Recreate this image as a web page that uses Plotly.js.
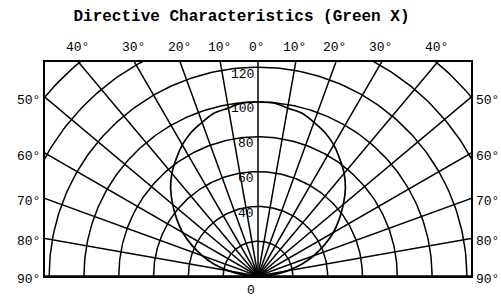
<!DOCTYPE html>
<html>
<head>
<meta charset="utf-8">
<script src="https://cdn.plot.ly/plotly-3.0.1.min.js"></script>
<style>html,body{margin:0;padding:0;background:#fff;}#chart{width:501px;height:300px;}</style>
</head>
<body>
<div id="chart"></div>
<script>
// ---- data ----
const chartTitle = 'Directive Characteristics (Green X)';
const ringRadii = [20, 40, 60, 80, 100, 120, 140, 160, 180];
const spokeAngles = [-90, -80, -70, -60, -50, -40, -30, -20, -10, 0, 10, 20, 30, 40, 50, 60, 70, 80, 90];
const ringLabelValues = [40, 60, 80, 100, 120];
const topTickAngles = [-40, -30, -20, -10, 0, 10, 20, 30, 40];
const topTickLabels = ['40°', '30°', '20°', '10°', '0°', '10°', '20°', '30°', '40°'];
const sideTickAngles = [50, 60, 70, 80, 90];
const sideTickLabels = ['50°', '60°', '70°', '80°', '90°'];
const bottomLabel = '0';
// radiation pattern (relative intensity, %) vs angle from axis (deg)
const patternAngles = [-90, -85, -80, -75, -70, -65, -60, -55, -50, -45, -40, -35, -30, -25, -20, -15, -10, -5, 0,
                       5, 10, 15, 20, 25, 30, 35, 40, 45, 50, 55, 60, 65, 70, 75, 80, 85, 90];
const patternValues = [0, 9, 17, 26, 34, 42, 50, 57, 64, 71, 77, 82, 87, 91, 94, 97, 98, 100, 100,
                       100, 98, 97, 94, 91, 87, 82, 77, 71, 64, 57, 50, 42, 34, 26, 17, 9, 0];

// ---- layout constants ----
const XR = 122.4, YR = 123;
const deg = Math.PI / 180;
const toXY = (r, a) => [r * Math.sin(a * deg), r * Math.cos(a * deg)];
const lineStyle = {color: '#000', width: 1.5};
const traces = [];

// rings
ringRadii.forEach(r => {
  const xs = [], ys = [];
  for (let a = -90; a <= 90; a += 1) { const p = toXY(r, a); xs.push(p[0]); ys.push(p[1]); }
  traces.push({type: 'scatter', mode: 'lines', x: xs, y: ys, line: lineStyle, hoverinfo: 'skip', showlegend: false});
});
// spokes
spokeAngles.forEach(a => {
  const p = toXY(220, a);
  traces.push({type: 'scatter', mode: 'lines', x: [0, p[0]], y: [0, p[1]], line: lineStyle, hoverinfo: 'skip', showlegend: false});
});
// pattern curve
{
  const xs = [], ys = [];
  patternAngles.forEach((a, i) => { const p = toXY(patternValues[i], a); xs.push(p[0]); ys.push(p[1]); });
  traces.push({type: 'scatter', mode: 'lines', x: xs, y: ys, line: {color: '#000', width: 1.7, shape: 'spline'}, hoverinfo: 'skip', showlegend: false});
}

const monoFont = {family: 'Liberation Mono, DejaVu Sans Mono, monospace', size: 13, color: '#000'};
const annotations = [];
ringLabelValues.forEach(v => annotations.push({
  x: -1, y: v - 4, xref: 'x', yref: 'y', text: String(v), showarrow: false,
  xanchor: 'right', yanchor: 'middle', font: monoFont
}));
topTickAngles.forEach((a, i) => annotations.push({
  x: YR * Math.tan(a * deg), y: 1, xref: 'x', yref: 'paper', text: topTickLabels[i], showarrow: false,
  xanchor: 'center', yanchor: 'middle', yshift: 15, xshift: -1, font: monoFont
}));
sideTickAngles.forEach((a, i) => {
  const yv = a === 90 ? 0 : XR / Math.tan(a * deg);
  annotations.push({x: 0, y: yv, xref: 'paper', yref: 'y', text: sideTickLabels[i], showarrow: false,
    xanchor: 'right', yanchor: 'middle', xshift: -3, yshift: -3, font: monoFont});
  annotations.push({x: 1, y: yv, xref: 'paper', yref: 'y', text: sideTickLabels[i], showarrow: false,
    xanchor: 'left', yanchor: 'middle', xshift: 3, yshift: -3, font: monoFont});
});
annotations.push({x: -4, y: 0, xref: 'x', yref: 'paper', text: bottomLabel, showarrow: false,
  xanchor: 'center', yanchor: 'middle', yshift: -14, font: monoFont});

const axisCommon = {showgrid: false, zeroline: false, showticklabels: false, ticks: '',
  showline: true, mirror: true, linecolor: '#000', linewidth: 2, fixedrange: true};

const layout = {
  width: 501, height: 300,
  margin: {l: 45, r: 30, t: 62, b: 24},
  paper_bgcolor: '#fff', plot_bgcolor: '#fff',
  title: {text: chartTitle, x: 0.482, xref: 'container', xanchor: 'center', y: 0.95, yref: 'container', yanchor: 'middle',
    font: {family: 'Liberation Mono, DejaVu Sans Mono, monospace', size: 16, color: '#000', weight: 'bold'}},
  xaxis: Object.assign({range: [-XR, XR]}, axisCommon),
  yaxis: Object.assign({range: [0, YR]}, axisCommon),
  annotations: annotations,
  showlegend: false
};

Plotly.newPlot('chart', traces, layout, {displayModeBar: false, staticPlot: true});
</script>
</body>
</html>
